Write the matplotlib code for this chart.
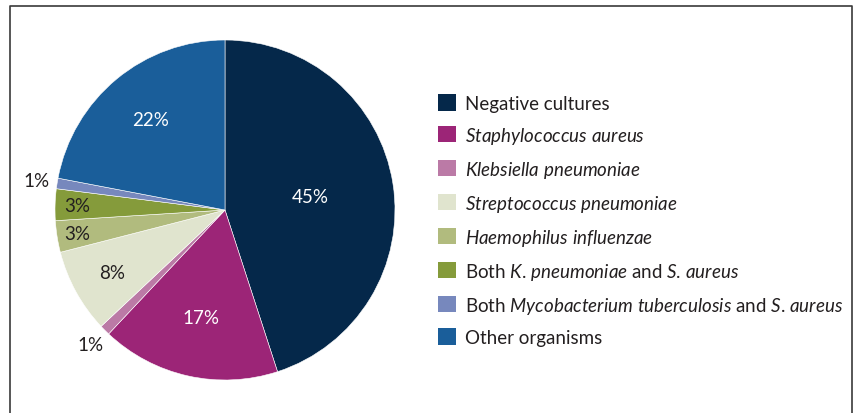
import matplotlib
matplotlib.use("Agg")
import matplotlib.pyplot as plt
import numpy as np
from matplotlib.patches import Patch
from matplotlib.lines import Line2D

plt.rcParams['font.family'] = ['Lato', 'DejaVu Sans']
plt.rcParams['mathtext.fontset'] = 'custom'
plt.rcParams['mathtext.rm'] = 'Lato'
plt.rcParams['mathtext.it'] = 'Lato:italic'

# Data
categories = [
    "Negative cultures",
    r"$\mathit{Staphylococcus\ aureus}$",
    r"$\mathit{Klebsiella\ pneumoniae}$",
    r"$\mathit{Streptococcus\ pneumoniae}$",
    r"$\mathit{Haemophilus\ influenzae}$",
    r"Both $\mathit{K}$. $\mathit{pneumoniae}$ and $\mathit{S}$. $\mathit{aureus}$",
    r"Both $\mathit{Mycobacterium\ tuberculosis}$ and $\mathit{S}$. $\mathit{aureus}$",
    "Other organisms",
]
values = [45, 17, 1, 8, 3, 3, 1, 22]
colors = ["#05284a", "#9c2577", "#bb7aa6", "#e0e4ce", "#b1bb7e", "#859b3b", "#7788bd", "#1a5e9a"]
label_colors = ["white", "white", "#231f20", "#231f20", "#231f20", "#231f20", "#231f20", "white"]
label_dist = [0.51, 0.65, 1.12, 0.76, 0.88, 0.87, 1.12, 0.69]

fig = plt.figure(figsize=(8.57, 4.14), dpi=100)
ax = fig.add_axes([55 / 857, 33 / 414, 340 / 857, 340 / 414])

wedges, _ = ax.pie(values, colors=colors, startangle=90, counterclock=False,
                   wedgeprops=dict(edgecolor="white", linewidth=0.4))
ax.set_xlim(-1, 1)
ax.set_ylim(-1, 1)
ax.set_aspect("equal")
ax.axis("off")

# Percent labels
for w, v, c, d in zip(wedges, values, label_colors, label_dist):
    ang = np.deg2rad((w.theta1 + w.theta2) / 2)
    ax.text(d * np.cos(ang), d * np.sin(ang), f"{v}%", ha="center", va="center",
            color=c, fontsize=13.5)

# Legend
handles = [Patch(facecolor=c, edgecolor="none") for c in colors]
fig.legend(handles, categories, loc="upper left", bbox_to_anchor=(429 / 857, 1 - 86 / 414),
           frameon=False, fontsize=13.5, handlelength=0.95, handleheight=0.95,
           handletextpad=0.45, labelspacing=0.69, labelcolor="#231f20", borderpad=0)

# Frame around the figure (open at the bottom)
frame_x = [10 / 857, 10 / 857, 852 / 857, 852 / 857]
frame_y = [0, 1 - 7 / 414, 1 - 7 / 414, 0]
fig.add_artist(Line2D(frame_x, frame_y, color="#3a3a3a", linewidth=1.2, transform=fig.transFigure))

fig.savefig("out.png", dpi=100)
